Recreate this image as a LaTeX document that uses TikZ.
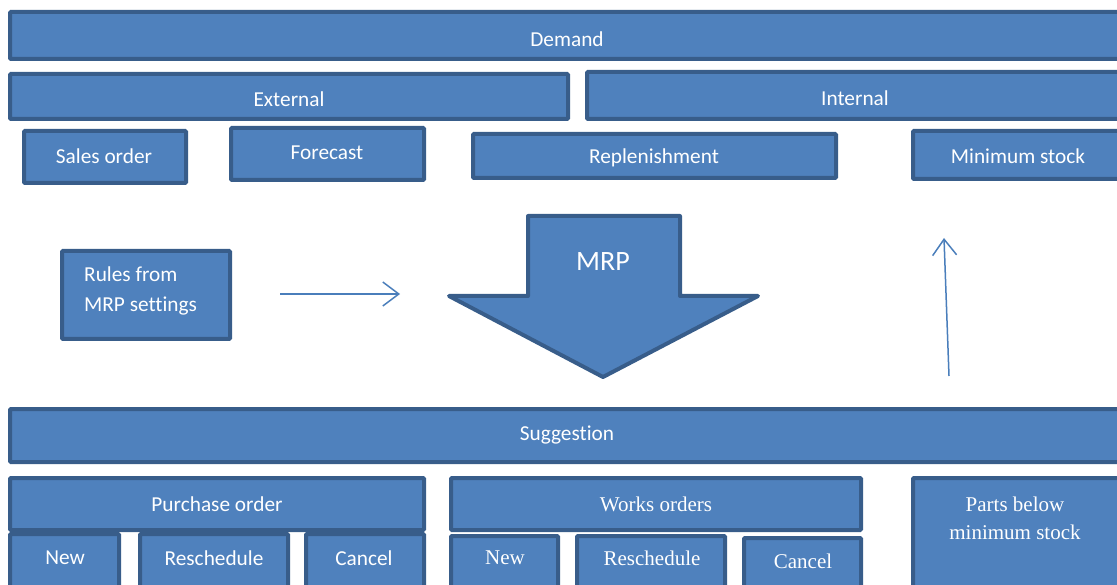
\documentclass[tikz,border=0pt]{standalone}
\usepackage{fontspec}
\setmainfont{Carlito}[Ligatures=NoCommon]
\newfontfamily\tms{Liberation Serif}
\usetikzlibrary{arrows.meta}
\definecolor{boxfill}{HTML}{4F81BD}
\definecolor{boxline}{HTML}{385D8A}
\definecolor{arrowline}{HTML}{4A7EBB}
\begin{document}
\begin{tikzpicture}[x=1pt,y=-1pt,
  box/.style={draw=boxline, fill=boxfill, line width=4pt, rounded corners=1pt,
    inner sep=0pt},
  lbl/.style={text=white, inner sep=0pt, font=\fontsize{21.3}{30}\selectfont},
  seriflbl/.style={lbl, font=\tms\fontsize{21}{28}\selectfont},
  flow/.style={draw=arrowline, line width=1.5pt,
    -{Straight Barb[length=16pt,width=24pt,line width=1.5pt]}}]
\useasboundingbox (0,0) rectangle (1117,585);
\clip (0,0) rectangle (1117,585);

% demand side
\node[box, minimum width=1113pt, minimum height=47pt] (dem) at (566.5,35.5) {};
\node[lbl] (dem-t) at (567,39) {Demand};
\node[box, minimum width=558pt, minimum height=45pt] (ext) at (289,96.5) {};
\node[lbl] (ext-t) at (289,99) {External};
\node[box, minimum width=537pt, minimum height=47pt] (int) at (855.5,95.5) {};
\node[lbl] (int-t) at (855,98) {Internal};
\node[box, minimum width=162pt, minimum height=52pt] (sales) at (105,157) {};
\node[lbl] (sales-t) at (104,156) {Sales order};
\node[box, minimum width=193pt, minimum height=52pt] (fore) at (327.5,154) {};
\node[lbl] (fore-t) at (327,153) {Forecast};
\node[box, minimum width=363pt, minimum height=44pt] (repl) at (654.5,156) {};
\node[lbl] (repl-t) at (654,158) {Replenishment};
\node[box, minimum width=211pt, minimum height=48pt] (mins) at (1018.5,155) {};
\node[lbl] (mins-t) at (1018,156) {Minimum stock};

% MRP settings and the MRP run
\node[box, minimum width=168pt, minimum height=88pt] (rules) at (146,295) {};
\node[lbl, anchor=west, align=left] (rules-t) at (84,291) {Rules from\\MRP settings};
\path[draw=boxline, fill=boxfill, line width=4pt, line join=round]
  (528,216) -- (680,216) -- (680,296) -- (758,296) -- (603,377) -- (449,296) -- (528,296) -- cycle;
\node[text=white, inner sep=0pt, font=\fontsize{28}{32}\selectfont] (mrp) at (603,262) {MRP};
\coordinate (r1) at (280,294);
\coordinate (r2) at (400,294);
\draw[flow] (r1) -- (r2);
\coordinate (u1) at (949,376);
\coordinate (u2) at (944,238);
\draw[flow] (u1) -- (u2);

% suggestions
\node[box, minimum width=1114pt, minimum height=53pt] (sugg) at (567,435.5) {};
\node[lbl] (sugg-t) at (567,435) {Suggestion};
\node[box, minimum width=414pt, minimum height=52pt] (po) at (217,504) {};
\node[lbl] (po-t) at (217,504) {Purchase order};
\node[box, minimum width=109pt, minimum height=56pt] (pnew) at (64.5,562) {};
\node[lbl] (pnew-t) at (65,558) {New};
\node[box, minimum width=148pt, minimum height=56pt] (presch) at (214,562) {};
\node[lbl] (presch-t) at (214,558) {Reschedule};
\node[box, minimum width=118pt, minimum height=56pt] (pcan) at (365,562) {};
\node[lbl] (pcan-t) at (364,558) {Cancel};
\node[box, minimum width=410pt, minimum height=52pt] (wo) at (656,504) {};
\node[seriflbl] (wo-t) at (656,504) {Works orders};
\node[box, minimum width=107pt, minimum height=54pt] (wnew) at (504.5,563) {};
\node[seriflbl] (wnew-t) at (505,558) {New};
\node[box, minimum width=148pt, minimum height=54pt] (wresch) at (651,563) {};
\node[seriflbl] (wresch-t) at (652,558) {Reschedule};
\node[box, minimum width=117pt, minimum height=52pt] (wcan) at (802.5,564) {};
\node[seriflbl] (wcan-t) at (803,561) {Cancel};
\node[box, minimum width=211pt, minimum height=112pt] (parts) at (1018.5,534) {};
\node[seriflbl, align=center] (parts-t) at (1015,518) {Parts below\\minimum stock};
\end{tikzpicture}
\end{document}
